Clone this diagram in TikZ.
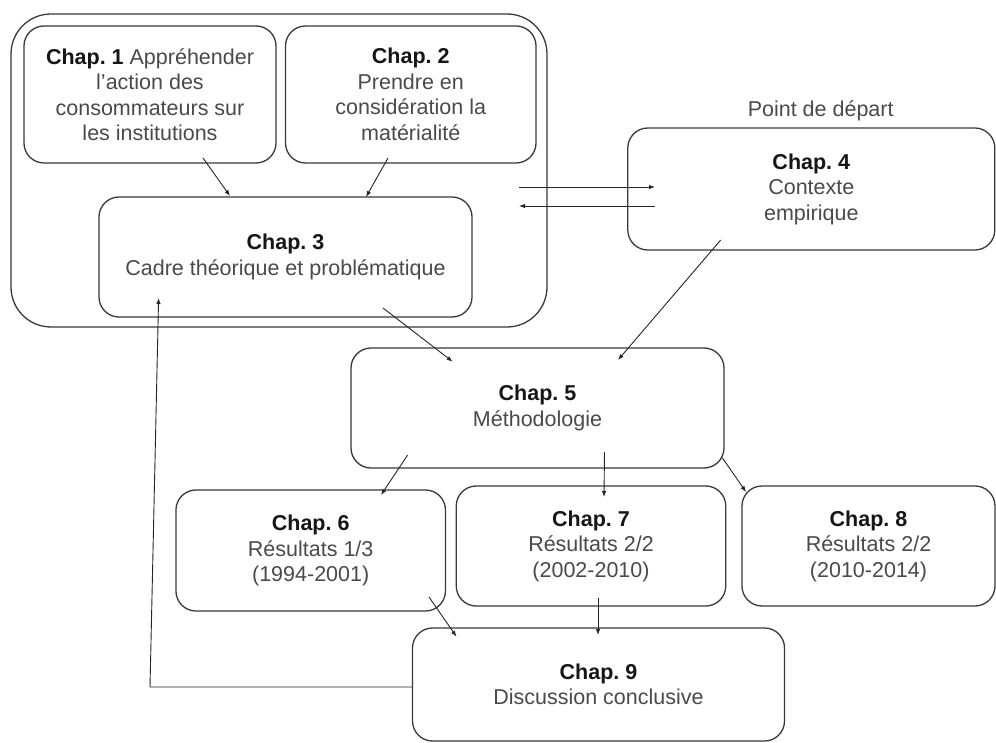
\documentclass[tikz,border=0pt]{standalone}
\usepackage{fontspec}
\setmainfont{Liberation Sans}
\usetikzlibrary{arrows.meta}
\definecolor{boxline}{HTML}{3A3A3A}
\definecolor{txt}{HTML}{4A4A4A}
\definecolor{bold}{HTML}{161616}
\newcommand{\ch}[1]{{\color{bold}\bfseries Chap.~#1}}
\begin{document}
\begin{tikzpicture}[x=1pt,y=-1pt,
  chapbox/.style={draw=boxline, line width=1.3pt, rounded corners=20pt, align=center,
    inner sep=0pt, text=txt, font=\fontsize{21.5}{25.5}\selectfont},
  conn/.style={draw=black!85, line width=0.9pt, -{Latex[length=6pt,width=4.5pt]}}]
\useasboundingbox (0,0) rectangle (996,743);
\fill[white] (0,0) rectangle (996,743);
% outer group
\node[draw=boxline, line width=1.3pt, rounded corners=40pt, minimum width=536pt, minimum height=313pt, inner sep=0pt] (grp) at (279,170.5) {};
% chapters
\node[chapbox, minimum width=252pt, minimum height=137pt] (c1) at (150,94.5)
  {\ch{1} Appréhender\\ l’action des\\ consommateurs sur\\ les institutions};
\node[chapbox, minimum width=250.5pt, minimum height=137pt] (c2) at (410.75,94.5)
  {\ch{2}\\ Prendre en\\ considération la\\ matérialité};
\node[chapbox, minimum width=373pt, minimum height=120pt] (c3) at (285.5,257)
  {\ch{3}\\ Cadre théorique et problématique};
\node[chapbox, minimum width=367pt, minimum height=122pt] (c4) at (811.3,189)
  {\ch{4}\\ Contexte\\ empirique};
\node[text=txt, font=\fontsize{21.5}{25.5}\selectfont] (pd) at (820.7,110.7) {Point de départ};
\node[chapbox, minimum width=373pt, minimum height=120pt] (c5) at (537.5,408)
  {\ch{5}\\ Méthodologie};
\node[chapbox, minimum width=269.5pt, minimum height=121pt] (c6) at (310.7,550.5)
  {\ch{6}\\ Résultats 1/3\\ (1994-2001)};
\node[chapbox, minimum width=269.5pt, minimum height=120pt] (c7) at (591,546)
  {\ch{7}\\ Résultats 2/2\\ (2002-2010)};
\node[chapbox, minimum width=253pt, minimum height=120pt] (c8) at (868.5,546)
  {\ch{8}\\ Résultats 2/2\\ (2010-2014)};
\node[chapbox, minimum width=372pt, minimum height=113pt] (c9) at (598.5,684.5)
  {\ch{9}\\ Discussion conclusive};
% connectors
\draw[conn] ([shift={(53,63.5)}]c1.center) -- ([shift={(-55.5,-61)}]c3.center);
\draw[conn] ([shift={(-22.75,63.5)}]c2.center) -- ([shift={(80.5,-60)}]c3.center);
\draw[conn] ([shift={(233.5,-70)}]c3.center) -- ([shift={(-156.3,-2)}]c4.center);
\draw[conn] ([shift={(-156.3,17)}]c4.center) -- ([shift={(233.5,-51)}]c3.center);
\draw[conn] ([shift={(97.5,51)}]c3.center) -- ([shift={(-84.8,-46.3)}]c5.center);
\draw[conn] ([shift={(-90.6,51)}]c4.center) -- ([shift={(80.5,-48)}]c5.center);
\draw[conn] ([shift={(-129.8,47)}]c5.center) -- ([shift={(70.3,-55.5)}]c6.center);
\draw[conn] ([shift={(67,44)}]c5.center) -- ([shift={(13,-49)}]c7.center);
\draw[conn] ([shift={(185,50)}]c5.center) -- ([shift={(-122.5,-54)}]c8.center);
\draw[conn] ([shift={(118.3,46.5)}]c6.center) -- ([shift={(-142,-47.8)}]c9.center);
\draw[conn] ([shift={(7,52)}]c7.center) -- ([shift={(-0.5,-49.5)}]c9.center);
\coordinate (bend) at (150,687);
\draw[conn] ([shift={(0,2.5)}]c9.west) -- (bend) -- ([shift={(-126.9,41)}]c3.center);
\end{tikzpicture}
\end{document}
